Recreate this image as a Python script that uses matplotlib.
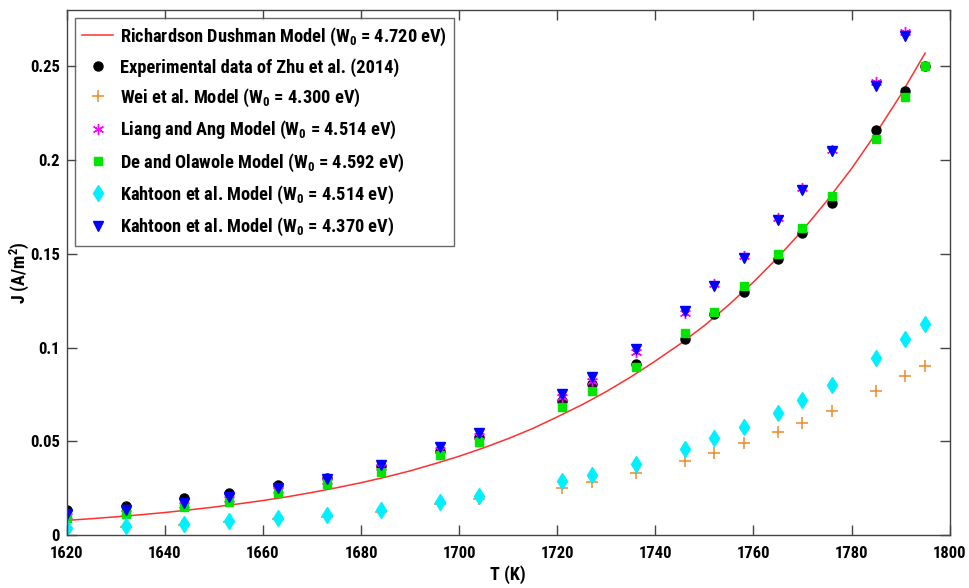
import numpy as np
import matplotlib
matplotlib.use("Agg")
import matplotlib.pyplot as plt

plt.rcParams['font.family'] = ['Roboto Condensed', 'DejaVu Sans']
plt.rcParams['font.weight'] = 'bold'
plt.rcParams['mathtext.fontset'] = 'custom'
plt.rcParams['mathtext.bf'] = 'Roboto Condensed:bold'
plt.rcParams['mathtext.rm'] = 'Roboto Condensed:bold'
plt.rcParams['mathtext.default'] = 'bf'

# temperatures of the data points (K)
T = [1620, 1632, 1644, 1653, 1663, 1673, 1684, 1696, 1704, 1721, 1727,
     1736, 1746, 1752, 1758, 1765, 1770, 1776, 1785, 1791, 1795]

# Richardson Dushman curve
T_rd = [1620, 1625, 1630, 1635, 1640, 1645, 1650, 1655, 1660, 1665, 1670,
        1675, 1680, 1685, 1690, 1695, 1700, 1705, 1710, 1715, 1720, 1725,
        1730, 1735, 1740, 1745, 1750, 1755, 1760, 1765, 1770, 1775, 1780,
        1785, 1790, 1795]
J_rd = [0.0078, 0.0087, 0.0097, 0.0108, 0.0120, 0.0134, 0.0149, 0.0166,
        0.0184, 0.0204, 0.0227, 0.0252, 0.0279, 0.0309, 0.0342, 0.0380,
        0.0420, 0.0465, 0.0514, 0.0568, 0.0630, 0.0694, 0.0765, 0.0843,
        0.0928, 0.1018, 0.1117, 0.1228, 0.1349, 0.1481, 0.1625, 0.1783,
        0.1954, 0.2143, 0.2346, 0.2570]

J_exp = [0.0132, 0.0155, 0.0196, 0.0223, 0.0266, 0.0306, 0.0366, 0.0450, 0.0522,
         0.0717, 0.0806, 0.0912, 0.1044, 0.1178, 0.1298, 0.1470, 0.1610, 0.1770,
         0.2158, 0.2368, 0.2500]
J_wei = [0.0035, 0.0044, 0.0054, 0.0068, 0.0083, 0.0098, 0.0122, 0.0164, 0.0191,
         0.0253, 0.0283, 0.0330, 0.0393, 0.0437, 0.0489, 0.0549, 0.0597, 0.0663,
         0.0769, 0.0848, 0.0904]
J_liang = [0.0100, 0.0120, 0.0160, 0.0190, 0.0240, 0.0290, 0.0362, 0.0452, 0.0530,
           0.0735, 0.0824, 0.0976, 0.1184, 0.1340, 0.1490, 0.1690, 0.1850, 0.2055,
           0.2415, 0.2680, np.nan]
J_de = [0.0093, 0.0114, 0.0150, 0.0178, 0.0225, 0.0270, 0.0337, 0.0428, 0.0497,
        0.0684, 0.0766, 0.0897, 0.1075, 0.1190, 0.1330, 0.1500, 0.1636, 0.1810,
        0.2110, 0.2335, 0.2500]
J_kah1 = [0.0039, 0.0048, 0.0058, 0.0075, 0.0093, 0.0107, 0.0136, 0.0176, 0.0210,
          0.0286, 0.0322, 0.0381, 0.0458, 0.0515, 0.0576, 0.0652, 0.0719, 0.0802,
          0.0942, 0.1046, 0.1126]
J_kah2 = [0.0110, 0.0132, 0.0173, 0.0203, 0.0253, 0.0301, 0.0373, 0.0467, 0.0544,
          0.0752, 0.0841, 0.0990, 0.1195, 0.1330, 0.1480, 0.1680, 0.1840, 0.2046,
          0.2396, 0.2660, np.nan]

fig = plt.figure(figsize=(9.7, 5.88), dpi=100)
ax = fig.add_axes([0.0688, 0.0901, 0.9102, 0.8929])

ax.plot(T_rd, J_rd, color='#ff3030', lw=1.1,
        label=r'Richardson Dushman Model (W$_0$ = 4.720 eV)')
ax.plot(T, J_exp, 'o', color='black', ms=6.5, ls='none',
        label='Experimental data of Zhu et al. (2014)')
ax.plot(T, J_wei, '+', color='#ee8a2a', ms=8, mew=1.1, ls='none',
        label=r'Wei et al. Model (W$_0$ = 4.300 eV)')
ax.plot(T, J_liang, marker=(6, 2, 0), color='#ff00ff', ms=8, mew=1.0, ls='none',
        label=r'Liang and Ang Model (W$_0$ = 4.514 eV)')
ax.plot(T, J_de, 's', color='#00e600', ms=5.5, ls='none',
        label=r'De and Olawole Model (W$_0$ = 4.592 eV)')
ax.plot(T, J_kah1, 'd', color='#00f0ff', ms=8, ls='none',
        label=r'Kahtoon et al. Model (W$_0$ = 4.514 eV)')
ax.plot(T, J_kah2, 'v', color='#0000ff', ms=7.5, ls='none',
        label=r'Kahtoon et al. Model (W$_0$ = 4.370 eV)')

ax.set_xlim(1620, 1800)
ax.set_ylim(0, 0.28)
ax.set_xticks(np.arange(1620, 1801, 20))
ax.set_yticks([0, 0.05, 0.1, 0.15, 0.2, 0.25])
ax.set_yticklabels(['0', '0.05', '0.1', '0.15', '0.2', '0.25'])
ax.tick_params(direction='in', length=7, width=1, top=True, right=True,
               labelsize=12, color='#444444')
ax.tick_params(axis='x', pad=8)
ax.tick_params(axis='y', pad=5)
for s in ax.spines.values():
    s.set_color('#444444')
    s.set_linewidth(1)

ax.set_xlabel('T (K)', fontsize=13, fontweight='bold', labelpad=3)
ax.set_ylabel(r'J (A/m$^2$)', fontsize=13, fontweight='bold')
ax.yaxis.set_label_coords(-0.040, 0.5)

leg = ax.legend(loc='upper left', fontsize=13.2, frameon=True, fancybox=False,
                edgecolor='#444444', handlelength=1.7, labelspacing=0.55,
                borderaxespad=0.45, borderpad=0.4, handletextpad=0.35)
leg.get_frame().set_linewidth(1)

plt.savefig('out.png', dpi=100)
